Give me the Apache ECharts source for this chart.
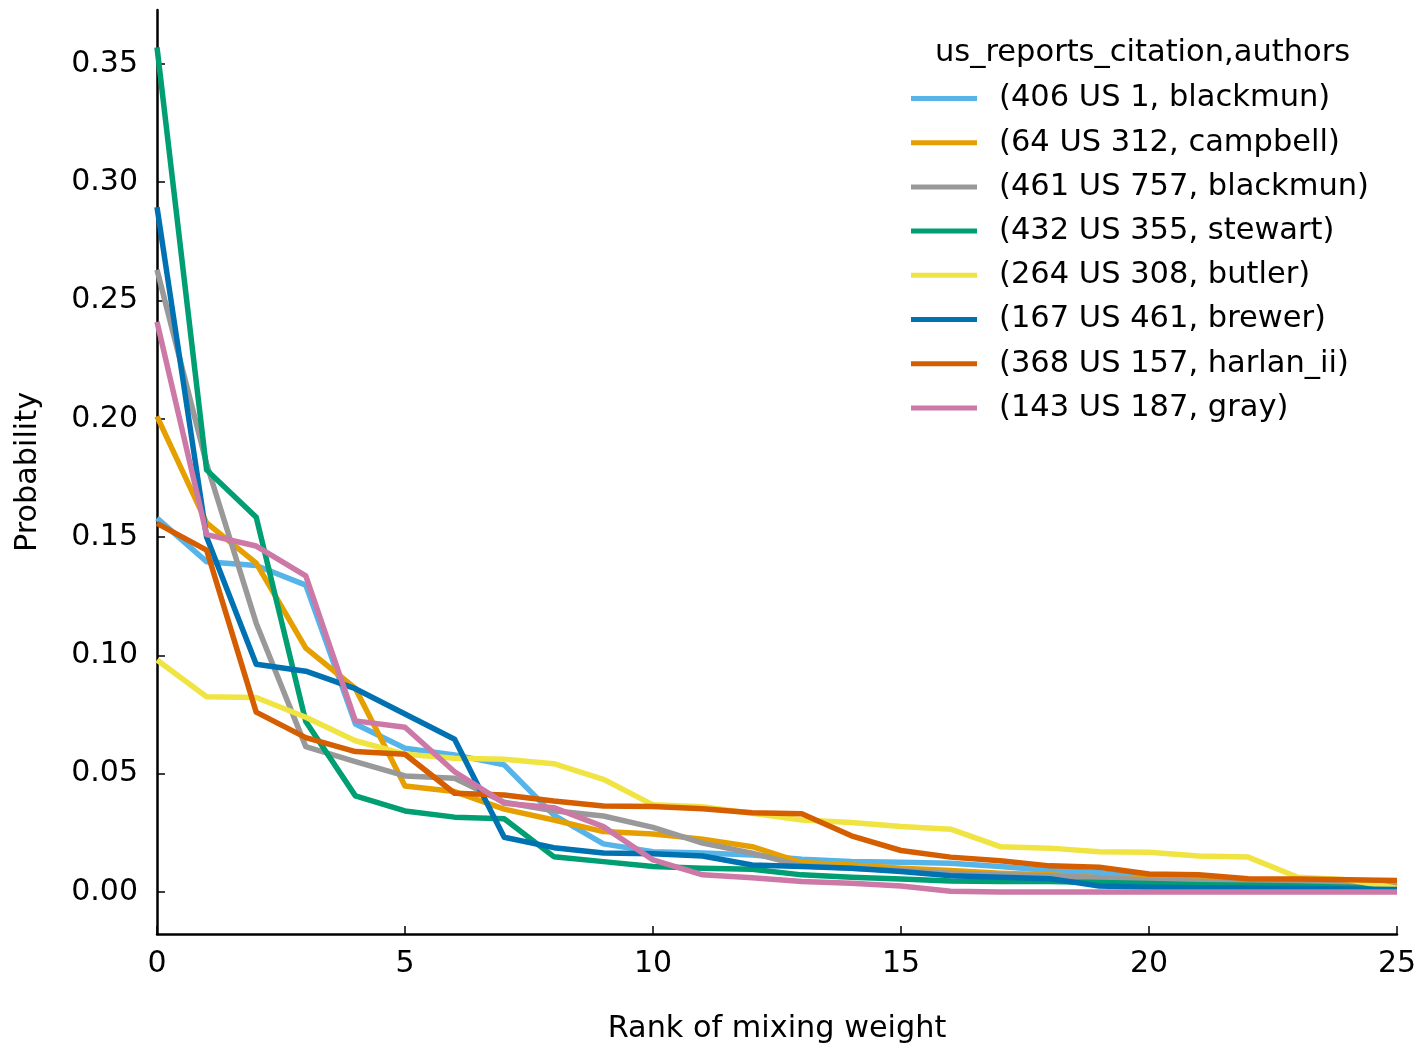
<!DOCTYPE html>
<html>
<head>
<meta charset="utf-8">
<script src="https://cdn.jsdelivr.net/npm/echarts@6/dist/echarts.min.js"></script>
<style>
html,body{margin:0;padding:0;background:#fff;}
#chart{width:1426px;height:1052px;}
</style>
</head>
<body>
<div id="chart"></div>
<script>
var ranks = [0,1,2,3,4,5,6,7,8,9,10,11,12,13,14,15,16,17,18,19,20,21,22,23,24,25];
var seriesNames = [
  "(406 US 1, blackmun)",
  "(64 US 312, campbell)",
  "(461 US 757, blackmun)",
  "(432 US 355, stewart)",
  "(264 US 308, butler)",
  "(167 US 461, brewer)",
  "(368 US 157, harlan_ii)",
  "(143 US 187, gray)"
];
var seriesColors = ["#56B4E9","#E69F00","#999999","#009E73","#F0E442","#0072B2","#D55E00","#CC79A7"];
var blackmun406 = [0.158,0.1396,0.138,0.1297,0.071,0.0607,0.0579,0.0537,0.0325,0.0203,0.017,0.0164,0.0156,0.0138,0.0128,0.0125,0.0121,0.0107,0.009,0.0082,0.0058,0.005,0.004,0.003,0.002,0.001];
var campbell64 = [0.201,0.156,0.139,0.103,0.086,0.0448,0.0424,0.035,0.0304,0.0255,0.0245,0.0223,0.0191,0.0124,0.0114,0.010,0.009,0.0079,0.0072,0.006,0.0056,0.0054,0.005,0.0045,0.004,0.0025];
var blackmun461 = [0.263,0.181,0.1136,0.0614,0.0551,0.049,0.048,0.0379,0.0343,0.0321,0.0273,0.0206,0.0164,0.011,0.010,0.009,0.0079,0.0072,0.0068,0.006,0.005,0.0045,0.004,0.0035,0.003,0.002];
var stewart432 = [0.357,0.1784,0.1584,0.072,0.0406,0.0342,0.0316,0.0309,0.0149,0.0128,0.0107,0.010,0.0096,0.0072,0.0062,0.0054,0.0046,0.0044,0.0044,0.004,0.0035,0.003,0.0028,0.0025,0.002,0.0016];
var butler264 = [0.098,0.0825,0.0822,0.0738,0.0639,0.0582,0.0565,0.0561,0.0542,0.0476,0.0368,0.036,0.0332,0.0304,0.0293,0.0276,0.0265,0.0191,0.0185,0.017,0.0168,0.0152,0.0147,0.0062,0.0051,0.0016];
var brewer167 = [0.2895,0.150,0.0962,0.0933,0.0859,0.0752,0.0645,0.0231,0.0187,0.0164,0.0161,0.0152,0.0114,0.0107,0.010,0.0086,0.0068,0.0062,0.0056,0.0025,0.002,0.0018,0.0016,0.0014,0.0012,0.001];
var harlan368 = [0.1558,0.1445,0.076,0.0652,0.0593,0.0582,0.0417,0.041,0.0384,0.0363,0.0361,0.0351,0.0335,0.033,0.0237,0.0175,0.0147,0.0132,0.011,0.0104,0.0076,0.0072,0.0056,0.0054,0.0051,0.0048];
var gray143 = [0.241,0.151,0.1462,0.1336,0.0723,0.0696,0.0508,0.0375,0.0356,0.0276,0.0135,0.0072,0.006,0.0044,0.0037,0.0025,0.0003,0,0,0,0,0,0,0,0,0];
var yTicks = [0,0.05,0.10,0.15,0.20,0.25,0.30,0.35];
var xTicks = [0,5,10,15,20,25];

var allValues = [blackmun406,campbell64,blackmun461,stewart432,butler264,brewer167,harlan368,gray143];
var FONT = "DejaVu Sans";

var series = allValues.map(function(vals, k){
  return {
    name: seriesNames[k],
    type: 'line',
    data: ranks.map(function(r, i){ return [r, vals[i]]; }),
    showSymbol: false,
    symbol: 'none',
    lineStyle: {color: seriesColors[k], width: 5.5, join: 'round'},
    itemStyle: {color: seriesColors[k]},
    emphasis: {disabled: true},
    animation: false
  };
});

var chart = echarts.init(document.getElementById('chart'), null, {renderer: 'canvas'});
chart.setOption({
  backgroundColor: '#fff',
  animation: false,
  title: {
    text: 'us_reports_citation,authors',
    left: 935, top: 38, padding: 0,
    textStyle: {fontFamily: FONT, fontSize: 30.5, fontWeight: 'normal', color: '#000'}
  },
  legend: {
    orient: 'vertical',
    left: 911, top: 83, padding: 0,
    itemWidth: 66, itemHeight: 5, itemGap: 13.2,
    icon: 'rect',
    data: seriesNames,
    textStyle: {fontFamily: FONT, fontSize: 30.5, color: '#000', lineHeight: 30, padding: [0,0,0,17]}
  },
  grid: {left: 157, right: 29, top: 10, bottom: 118, containLabel: false},
  xAxis: {
    type: 'value', min: 0, max: 25, interval: 5,
    name: 'Rank of mixing weight', nameLocation: 'middle', nameGap: 80,
    nameTextStyle: {fontFamily: FONT, fontSize: 30.3, color: '#000'},
    axisLine: {show: true, onZero: false, lineStyle: {color: '#000', width: 2.5}},
    axisTick: {show: true, inside: true, length: 8, lineStyle: {color: '#000', width: 1.5}},
    axisLabel: {fontFamily: FONT, fontSize: 30, color: '#000', margin: 15,
      customValues: xTicks},
    splitLine: {show: false}
  },
  yAxis: {
    type: 'value', min: -0.0178, max: 0.3728,
    name: 'Probability', nameLocation: 'middle', nameGap: 114, nameRotate: 90,
    nameTextStyle: {fontFamily: FONT, fontSize: 30.3, color: '#000'},
    axisLine: {show: true, onZero: false, lineStyle: {color: '#000', width: 2.5}},
    axisTick: {show: true, inside: true, length: 8, lineStyle: {color: '#000', width: 1.5},
      customValues: yTicks},
    axisLabel: {fontFamily: FONT, fontSize: 30, color: '#000', margin: 19,
      customValues: yTicks,
      formatter: function(v){ return v.toFixed(2); }},
    splitLine: {show: false}
  },
  series: series
});
</script>
</body>
</html>
